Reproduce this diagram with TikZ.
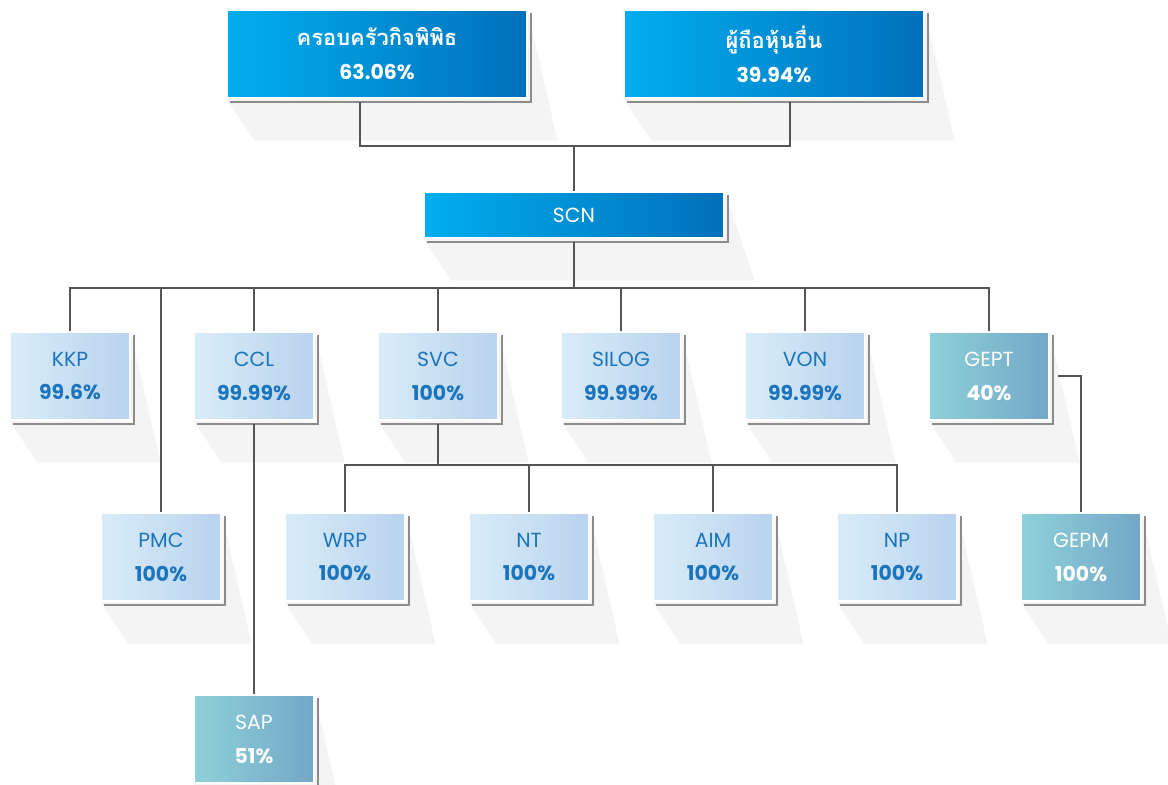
\documentclass[tikz,border=0pt]{standalone}
\usepackage{fontspec}
\setmainfont{Poppins}
\newfontfamily\thaifont[Script=Thai]{Loma}
\usepackage{tikz}
\usetikzlibrary{calc,backgrounds}
\definecolor{topl}{HTML}{00AEEF}
\definecolor{topr}{HTML}{0070BA}
\definecolor{subl}{HTML}{D9ECF8}
\definecolor{subr}{HTML}{B9D3EE}
\definecolor{teall}{HTML}{8ED1D9}
\definecolor{tealr}{HTML}{73A7C7}
\definecolor{txtblue}{HTML}{1C75BC}
\definecolor{linkc}{HTML}{555555}
\definecolor{shline}{HTML}{8C8C8C}
\definecolor{castc}{HTML}{F4F4F4}
\tikzset{
  box/.style={draw=white, line width=1.2bp, minimum width=120bp, minimum height=88bp,
    inner sep=0pt, align=center, font=\fontsize{20.5}{34}\selectfont},
  top/.style={box, left color=topl, right color=topr, text=white, minimum width=300bp},
  sub/.style={box, left color=subl, right color=subr, text=txtblue},
  grp/.style={box, left color=teall, right color=tealr, text=white},
  link/.style={draw=linkc, line width=2.8bp},
  edge/.style={draw=shline, line width=2bp},
  cast/.style={fill=castc},
}

\begin{document}
\begin{tikzpicture}[x=1bp, y=-1bp]
  \useasboundingbox (0,0) rectangle (1168,785);
  % owners
  \node[top] (fam) at (377,54) {{\thaifont\fontsize{22}{34}\selectfont\bfseries ครอบครัวกิจพิพิธ}\\\bfseries 63.06\%};
  \node[top] (oth) at (774,54) {{\thaifont\fontsize{22}{34}\selectfont\bfseries ผู้ถือหุ้นอื่น}\\\bfseries 39.94\%};
  \node[top, minimum height=46bp] (scn) at (574,215) {SCN};
  % subsidiaries
  \node[sub] (kkp) at (70,376) {KKP\\\textbf{99.6\%}};
  \node[sub] (ccl) at (254,376) {CCL\\\textbf{99.99\%}};
  \node[sub] (svc) at (438,376) {SVC\\\textbf{100\%}};
  \node[sub] (silog) at (621,376) {SILOG\\\textbf{99.99\%}};
  \node[sub] (von) at (805,376) {VON\\\textbf{99.99\%}};
  \node[grp] (gept) at (989,376) {GEPT\\\textbf{40\%}};
  \node[sub] (pmc) at (161,557) {PMC\\\textbf{100\%}};
  \node[sub] (wrp) at (345,557) {WRP\\\textbf{100\%}};
  \node[sub] (nt) at (529,557) {NT\\\textbf{100\%}};
  \node[sub] (aim) at (713,557) {AIM\\\textbf{100\%}};
  \node[sub] (np) at (897,557) {NP\\\textbf{100\%}};
  \node[grp] (gepm) at (1081,557) {GEPM\\\textbf{100\%}};
  \node[grp] (sap) at (254,739) {SAP\\\textbf{51\%}};
  % shadows
  \begin{scope}[on background layer]
    \foreach \n in {fam,oth,scn,kkp,ccl,svc,silog,von,gept,pmc,wrp,nt,aim,np,gepm,sap}{
      \fill[cast] (\n.south west) -- ($(\n.south west)+(28,42)$)
        -- ($(\n.south east)+(30,42)$) -- (\n.north east) -- cycle;
    }
  \end{scope}
  \foreach \n in {fam,oth,scn,kkp,ccl,svc,silog,von,gept,pmc,wrp,nt,aim,np,gepm,sap}{
    \draw[edge] ($(\n.north east)+(3,4)$) -- ($(\n.south east)+(3,3)$)
      -- ($(\n.south west)+(4,3)$);
  }
  % connectors
  \coordinate (j1) at (574,146);
  \coordinate (bus) at (574,288);
  \coordinate (j2) at (438,465);
  \draw[link] ($(fam.south)+(-17,3)$) |- (j1) -| ($(oth.south)+(16,3)$);
  \draw[link] (j1) -- (scn.north);
  \draw[link] ($(scn.south)+(0,3)$) -- (bus);
  \draw[link] (kkp.north) |- (bus) -| (gept.north);
  \foreach \n in {ccl,svc,silog,von,pmc}{
    \draw[link] (\n.north) -- (\n.north |- bus);
  }
  \draw[link] ($(svc.south)+(0,3)$) -- (j2);
  \draw[link] (wrp.north) |- (j2) -| (np.north);
  \foreach \n in {nt,aim}{
    \draw[link] (\n.north) -- (\n.north |- j2);
  }
  \draw[link] ($(ccl.south)+(0,3)$) -- (sap.north);
  \draw[link] ($(gept.east)+(8,0)$) -| (gepm.north);
\end{tikzpicture}
\end{document}
